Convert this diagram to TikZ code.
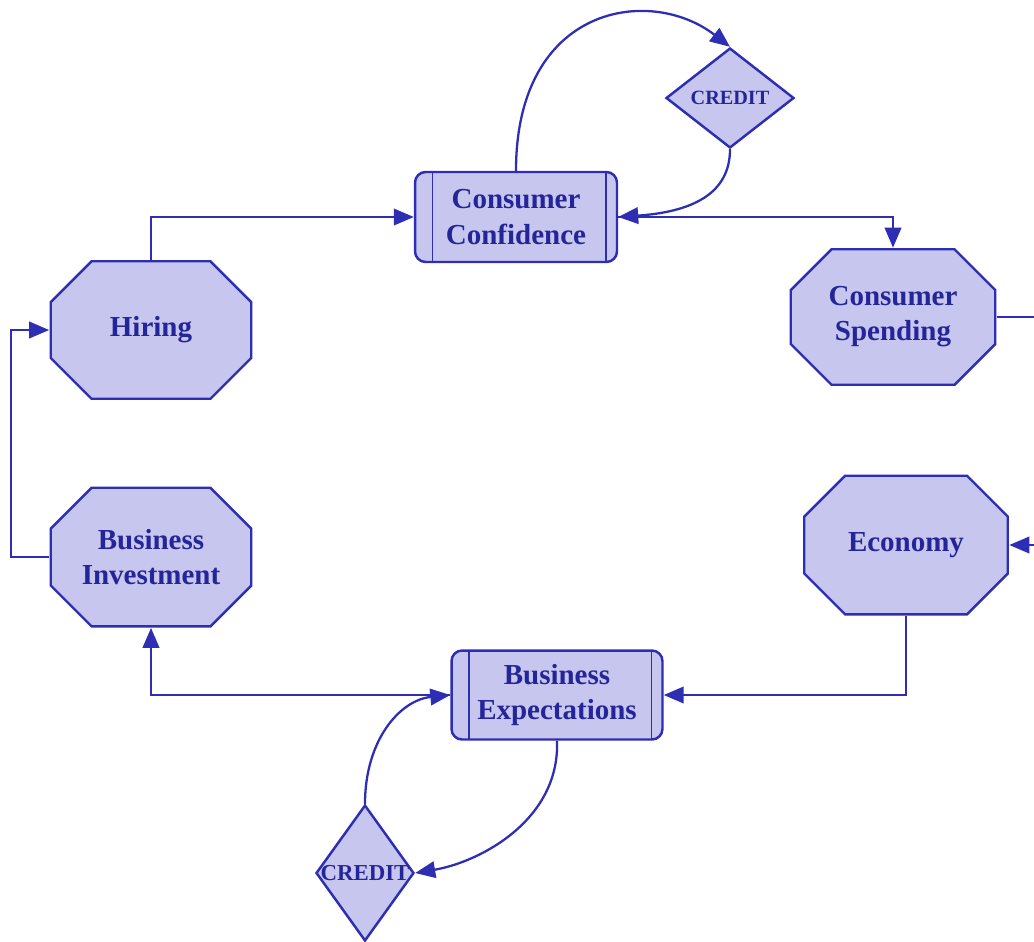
\documentclass[tikz,border=0pt]{standalone}
\usepackage{fontspec}
\setmainfont{Liberation Serif}
\usetikzlibrary{arrows.meta,shapes.geometric}
\definecolor{linkblue}{HTML}{2E2EB4}
\definecolor{textblue}{HTML}{25259A}
\definecolor{fillblue}{HTML}{C6C6EE}
\tikzset{
  octo/.style={rectangle,inner sep=0pt,font=\bfseries\fontsize{16.5}{20}\selectfont,text=textblue,align=center,
    path picture={
      \draw[linkblue,fill=fillblue,line width=1.4pt]
        ([shift={(0.84cm,-0.7pt)}]path picture bounding box.north west)
        -- ([shift={(-0.84cm,-0.7pt)}]path picture bounding box.north east)
        -- ([shift={(-0.7pt,-0.84cm)}]path picture bounding box.north east)
        -- ([shift={(-0.7pt,0.84cm)}]path picture bounding box.south east)
        -- ([shift={(-0.84cm,0.7pt)}]path picture bounding box.south east)
        -- ([shift={(0.84cm,0.7pt)}]path picture bounding box.south west)
        -- ([shift={(0.7pt,0.84cm)}]path picture bounding box.south west)
        -- ([shift={(0.7pt,-0.84cm)}]path picture bounding box.north west) -- cycle;}},
  tube/.style={rectangle,rounded corners=6pt,draw=linkblue,fill=fillblue,line width=1.4pt,inner sep=0pt,font=\bfseries\fontsize{16.5}{20}\selectfont,text=textblue,align=center,
    path picture={
      \draw[linkblue,line width=1pt] ([xshift=0.35cm]path picture bounding box.north west)--([xshift=0.35cm]path picture bounding box.south west);
      \draw[linkblue,line width=0.8pt] ([xshift=-0.22cm]path picture bounding box.north east)--([xshift=-0.22cm]path picture bounding box.south east);}},
  credit/.style={diamond,draw=linkblue,fill=fillblue,line width=1.4pt,inner sep=0pt},
  credittxt/.style={font=\bfseries\fontsize{11.5}{13}\selectfont,text=textblue},
  link/.style={draw=linkblue,line width=1.3pt,-{Triangle[length=4mm,width=3.3mm]}},
  plainlink/.style={draw=linkblue,line width=1.3pt}
}
\begin{document}
\begin{tikzpicture}[x=0.02cm,y=-0.02cm]
\useasboundingbox (0,0) rectangle (1034,941);
% boxes
\node[tube,minimum width=4.04cm,minimum height=1.8cm] (conf) at (516,217) {Consumer\\Confidence};
\node[tube,minimum width=4.22cm,minimum height=1.78cm] (expect) at (557,695) {Business\\Expectations};
\node[octo,minimum width=4.14cm,minimum height=2.76cm] (spend) at (893,317) {Consumer\\Spending};
\node[octo,minimum width=4.12cm,minimum height=2.82cm] (econ) at (906,545) {Economy};
\node[octo,minimum width=4.06cm,minimum height=2.82cm] (invest) at (151,557) {Business\\Investment};
\node[octo,minimum width=4.06cm,minimum height=2.8cm] (hire) at (151,330) {Hiring};
\node[credit,minimum width=2.56cm,minimum height=2cm,label={[credittxt]center:CREDIT}] (credA) at (730,98) {};
\node[credit,minimum width=1.96cm,minimum height=2.72cm,label={[credittxt,font=\bfseries\fontsize{13}{15}\selectfont]center:CREDIT}] (credB) at (365,873) {};
% main loop
\draw[link] (hire.north) |- (conf.west);
\draw[link] (conf.east) -| (spend.north);
\coordinate (offR) at (1060,317);
\draw[plainlink] (spend.east) -- (offR);
\draw[link] (offR) |- (econ.east);
\draw[link] (econ.south) |- (expect.east);
\draw[link] (expect.west) -| (invest.south);
\draw[link] (invest.west) -- ++(-38,0) |- (hire.west);
% credit loops
\draw[link] (conf.north) .. controls (516,5) and (650,-15) .. (credA.north);
\draw[link] (credA.south) .. controls (730,195) and (690,212) .. (conf.east);
\draw[link] (expect.south) .. controls (560,820) and (480,862) .. (credB.east);
\draw[link] (credB.north) .. controls (365,740) and (400,700) .. (expect.west);
\end{tikzpicture}
\end{document}
